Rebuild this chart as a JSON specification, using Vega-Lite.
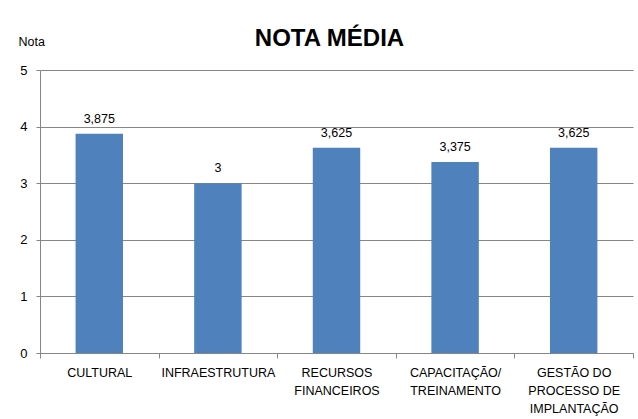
{
  "$schema": "https://vega.github.io/schema/vega-lite/v6.json",
  "width": 593,
  "height": 283,
  "autosize": "none",
  "padding": {"left": 40, "top": 70, "right": 5, "bottom": 66},
  "background": "white",
  "config": {
    "font": "Liberation Sans",
    "view": {"stroke": null},
    "locale": {"number": {"decimal": ",", "thousands": ".", "grouping": [3], "currency": ["R$", ""]}}
  },
  "title": {
    "text": "NOTA MÉDIA",
    "fontSize": 24,
    "fontWeight": "bold",
    "color": "black",
    "anchor": "middle",
    "dx": -7,
    "dy": 16,
    "offset": 0
  },
  "data": {
    "values": [
      {"categoria": "CULTURAL", "nota": 3.875},
      {"categoria": "INFRAESTRUTURA", "nota": 3},
      {"categoria": "RECURSOS FINANCEIROS", "nota": 3.625},
      {"categoria": "CAPACITAÇÃO/TREINAMENTO", "nota": 3.375},
      {"categoria": "GESTÃO DO PROCESSO DE IMPLANTAÇÃO", "nota": 3.625}
    ]
  },
  "encoding": {
    "x": {
      "field": "categoria",
      "type": "nominal",
      "sort": null,
      "scale": {"paddingInner": 0, "paddingOuter": 0},
      "axis": {
        "title": null,
        "labelAngle": 0,
        "labelFontSize": 12.5,
        "labelColor": "black",
        "labelPadding": 8,
        "labelLineHeight": 18,
        "labelLimit": 0,
        "labelExpr": "datum.value == 'RECURSOS FINANCEIROS' ? ['RECURSOS', 'FINANCEIROS'] : datum.value == 'CAPACITAÇÃO/TREINAMENTO' ? ['CAPACITAÇÃO/', 'TREINAMENTO'] : datum.value == 'GESTÃO DO PROCESSO DE IMPLANTAÇÃO' ? ['GESTÃO DO', 'PROCESSO DE', 'IMPLANTAÇÃO'] : datum.value",
        "tickBand": "extent",
        "tickColor": "#868686",
        "tickSize": 5,
        "domainColor": "#868686",
        "grid": false
      }
    },
    "y": {
      "field": "nota",
      "type": "quantitative",
      "scale": {"domain": [0, 5]},
      "axis": {
        "values": [0, 1, 2, 3, 4, 5],
        "title": "Nota",
        "titleAngle": 0,
        "titleAlign": "left",
        "titleBaseline": "alphabetic",
        "titleX": -22,
        "titleY": -25,
        "titleFontSize": 12.5,
        "titleFontWeight": "normal",
        "titleColor": "black",
        "labelFontSize": 13,
        "labelColor": "black",
        "labelPadding": 9,
        "tickColor": "#868686",
        "tickSize": 4,
        "domainColor": "#868686",
        "gridColor": "#868686",
        "gridWidth": 1
      }
    }
  },
  "layer": [
    {
      "mark": {"type": "bar", "color": "#4F81BD", "width": {"band": 0.4}}
    },
    {
      "mark": {"type": "text", "baseline": "bottom", "dy": -8, "fontSize": 12.5, "color": "black"},
      "encoding": {
        "text": {"field": "nota", "type": "quantitative", "format": "~g"}
      }
    }
  ]
}
